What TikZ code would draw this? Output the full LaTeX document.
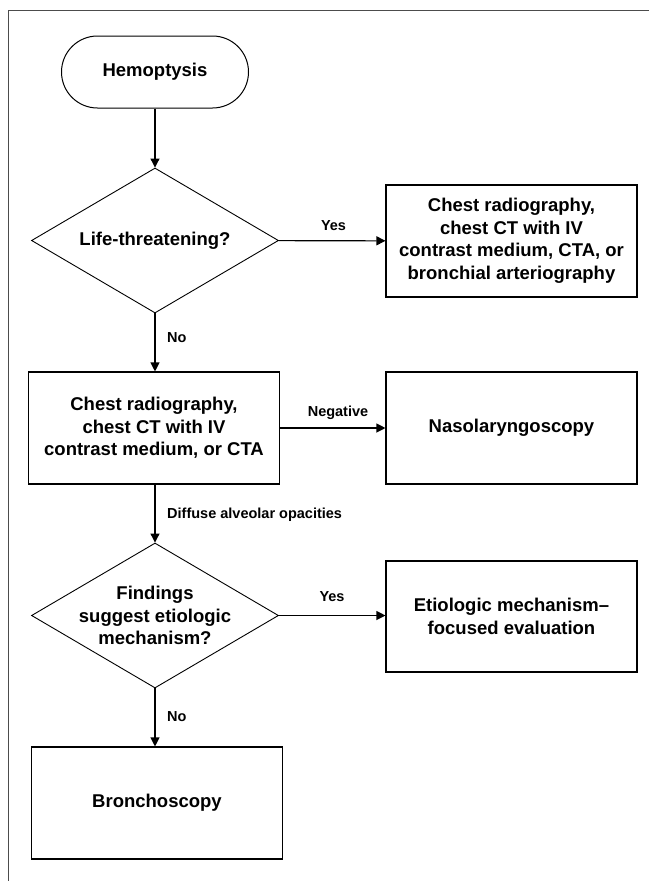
\documentclass[tikz,border=0pt]{standalone}
\usepackage{fontspec}
\setmainfont{Liberation Sans}
\usetikzlibrary{shapes.geometric,arrows.meta}
\begin{document}
\begin{tikzpicture}[x=1pt,y=-1pt,
    font=\bfseries\fontsize{18.5}{22.5}\selectfont,
    box/.style={draw,line width=1.1pt,minimum width=251pt,minimum height=112pt,align=center,inner sep=2pt},
    term/.style={draw,line width=1pt,rounded corners=36pt,minimum width=187pt,minimum height=72pt},
    ask/.style={draw,diamond,aspect=1.7,line width=0.9pt,minimum width=247pt,minimum height=145pt,inner sep=0pt},
    arr/.style={line width=1.1pt,-{Triangle[length=9pt,width=9pt]}},
    lbl/.style={font=\bfseries\fontsize{14.5}{17}\selectfont,inner sep=0pt}]
            \useasboundingbox (0,0) rectangle (649,881);
            \draw[line width=1pt,black!70] (649,10) -- (8,10) -- (8,881);
            \node[term] (hemo) at (155,72) {Hemoptysis};
            \node[ask] (life) at (155,240.5) {};
            \node[align=center] (lifetxt) at (life) {Life-threatening?};
            \node[box] (angio) at (511.5,241) {Chest radiography,\\chest CT with IV\\contrast medium, CTA, or\\bronchial arteriography};
            \node[box] (ct) at (154,428) {Chest radiography,\\chest CT with IV\\contrast medium, or CTA};
            \node[box] (naso) at (511.5,428) {Nasolaryngoscopy};
            \node[ask] (find) at (155,615.5) {};
            \node[align=center] (findtxt) at (find) {Findings\\suggest etiologic\\mechanism?};
            \node[box,minimum height=111pt] (etio) at (511.5,616.5) {Etiologic mechanism--\\focused evaluation};
            \node[box] (bron) at (157,803) {Bronchoscopy};
            \draw[arr] (hemo) -- (life);
            \draw[arr] (life) -- (angio);
            \draw[arr] (life) -- (life.south |- ct.north);
            \draw[arr] (ct) -- (naso);
            \draw[arr] (life.south |- ct.south) -- (find);
            \draw[arr] (find) -- (etio.west |- find.east);
            \draw[arr] (find) -- (find.south |- bron.north);
            \node[lbl] (yes1) at (333.5,226) {Yes};
            \node[lbl,anchor=west] (no1) at (167,338) {No};
            \node[lbl] (neg) at (338,413) {Negative};
            \node[lbl,anchor=west] (diff) at (167,515) {Diffuse alveolar opacities};
            \node[lbl] (yes2) at (332,597) {Yes};
            \node[lbl,anchor=west] (no2) at (167,717) {No};
        \end{tikzpicture}
\end{document}
